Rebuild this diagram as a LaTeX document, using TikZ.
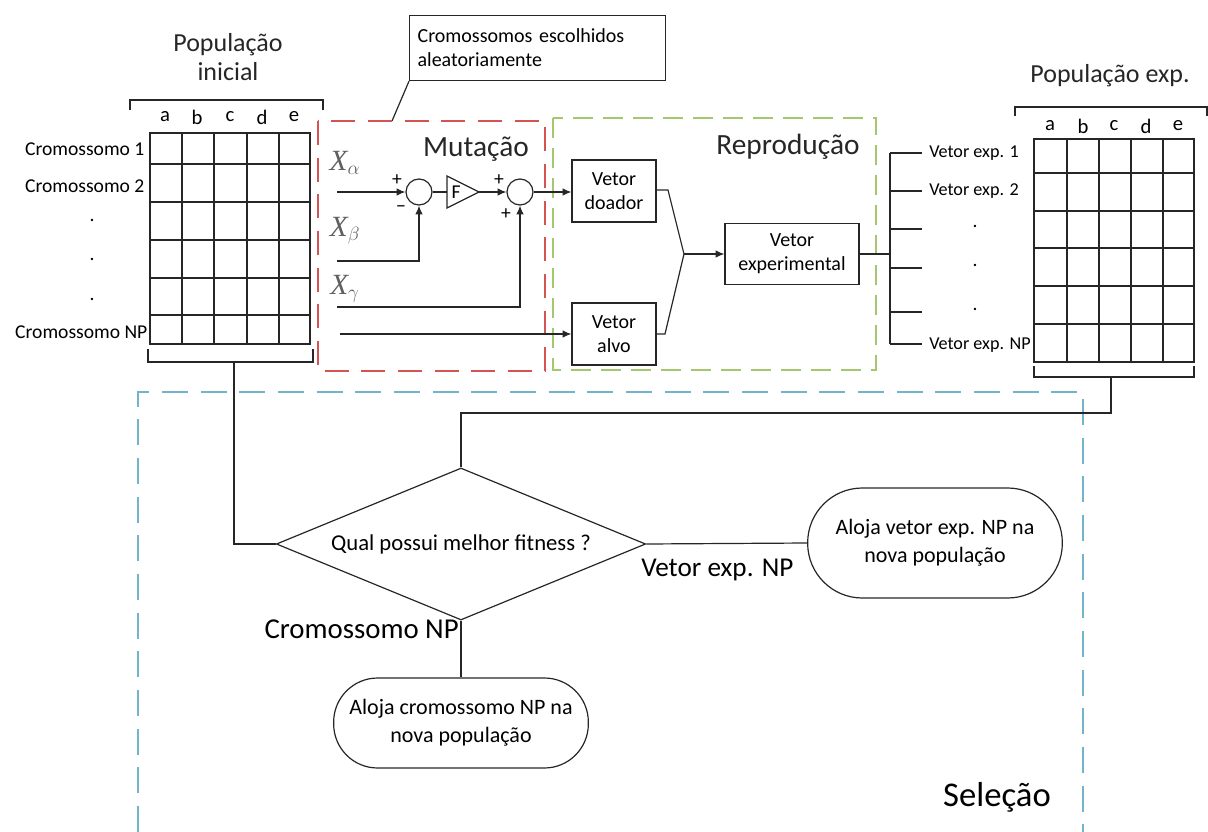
\documentclass[tikz,border=0pt]{standalone}
\usepackage{fontspec}
\setmainfont{Carlito}
\newfontfamily\xserif{Liberation Serif}
\usetikzlibrary{shapes.geometric,arrows.meta}
\definecolor{redd}{RGB}{212,84,84}
\definecolor{grnd}{RGB}{165,200,110}
\definecolor{blud}{RGB}{115,180,205}
\definecolor{xgray}{RGB}{95,95,95}
\newcommand\fsm{\fontsize{14.7}{17}\selectfont}
\newcommand\fve{\fontsize{13.6}{16}\selectfont}
\newcommand\fbx{\fontsize{15}{18}\selectfont}
\newcommand\fmd{\fontsize{15.5}{18}\selectfont}
\newcommand\fdia{\fontsize{17}{20}\selectfont}
\newcommand\fterm{\fontsize{16.5}{21}\selectfont}
\newcommand\fbg{\fontsize{19.5}{22}\selectfont}
\newcommand\fhu{\fontsize{22}{26}\selectfont}
\newcommand\xlab[1]{{\fontsize{22}{24}\selectfont\xserif\itshape X$_{#1}$}}
\begin{document}
\begin{tikzpicture}[x=0.75pt,y=-0.75pt,
  ln/.style={line width=0.9pt,draw=black!85},
  gridln/.style={line width=1.1pt,draw=black!85},
  arr/.style={ln,-{Latex[length=6.5pt,width=5.5pt]}},
  box/.style={ln,rectangle,align=center,inner sep=1pt,font=\fbx},
  lbl/.style={inner sep=1pt,font=\fsm},
  vlbl/.style={inner sep=0pt,font=\fve,anchor=west},
  ttl/.style={inner sep=0pt,font=\fbg,align=center,text=black!85},
  sgn/.style={inner sep=0pt,font=\fsm},
  sumc/.style={ln,circle,minimum size=19.5pt,inner sep=0pt},
  term/.style={ln,rectangle,align=center,inner sep=2pt,font=\fterm},
  reddash/.style={draw=redd,line width=1pt,dash pattern=on 18pt off 9.5pt},
  grndash/.style={draw=grnd,line width=1pt,dash pattern=on 15pt off 7.5pt},
  bludash/.style={draw=blud,line width=1pt,dash pattern=on 19.5pt off 9.5pt}]
\useasboundingbox (0,0) rectangle (1208,832);

% ---- Left population grid
\node[ttl] (tinit) at (228,57) {População\\inicial};
\draw[gridln] (150,133) rectangle (310,344);
\foreach \x in {182,214,247,279} \draw[gridln] (\x,133) -- (\x,344);
\foreach \y in {164,202,240,278,315} \draw[gridln] (150,\y) -- (310,\y);
\draw[ln] (130,110) -- (130,100) -- (323,100) -- (323,110);
\draw[ln] (148,349) -- (148,362) -- (313,362) -- (313,349);
\coordinate (lbr) at (234,362);
\foreach \c/\x in {a/165,b/197,c/230,d/262,e/294}
  \node[lbl,font=\fmd] (l\c) at (\x,117) {\c};
\node[lbl,anchor=east] (cr1) at (146,149) {Cromossomo 1};
\node[lbl,anchor=east] (cr2) at (146,186) {Cromossomo 2};
\node[lbl] (cd1) at (92,220) {.};
\node[lbl] (cd2) at (92,259) {.};
\node[lbl] (cd3) at (92,299) {.};
\node[lbl,anchor=east] (crn) at (149,332) {Cromossomo NP};

% ---- Callout
\node[ln,rectangle,align=left,anchor=north west,minimum width=192pt,minimum height=48.75pt,text width=180pt,inner sep=6pt,font=\fbx] (call) at (409,15) {Cromossomos escolhidos\\aleatoriamente};
\coordinate (callpt) at (392,121);
\draw[ln] (call.south west) -- (callpt);

% ---- Mutation
\draw[reddash] (318,121) rectangle (545,371);
\node[ttl,font=\fhu] (tmut) at (476,149) {Mutação};
\node[inner sep=0pt,text=xgray] (xal) at (345,163) {\xlab{\alpha}};
\node[inner sep=0pt,text=xgray] (xbe) at (345,231) {\xlab{\beta}};
\node[inner sep=0pt,text=xgray] (xga) at (345,289) {\xlab{\gamma}};
\node[sumc] (c1) at (419,192) {};
\node[sumc] (c2) at (520,192) {};
\coordinate (triL) at (447,192);
\coordinate (triR) at (479,192);
\draw[ln] (447,176) -- (479,192) -- (447,208) -- cycle;
\node[inner sep=0pt,font=\fsm] (fF) at (456,192) {F};
\coordinate (xa) at (337,192);
\coordinate (xb) at (337,261);
\coordinate (xg) at (337,307);
\coordinate (xt) at (340,334);
\draw[arr] (xa) -- (c1.west);
\draw[ln] (c1.east) -- (triL);
\draw[arr] (triR) -- (c2.west);
\draw[arr] (xb) -| (c1.south);
\draw[arr] (xg) -| (c2.south);
\node[sgn] (p1) at (397,180) {+};
\node[sgn] (m1) at (401,209) {\textminus};
\node[sgn] (p2) at (499,180) {+};
\node[sgn] (p3) at (506,214) {+};

% ---- Reproduction
\draw[grndash] (553,118) rectangle (876,370);
\node[ttl,font=\fhu] (trep) at (788,147) {Reprodução};
\node[box,minimum width=63pt,minimum height=46.5pt] (doador) at (614,191) {Vetor\\doador};
\node[box,minimum width=63pt,minimum height=46.5pt] (alvo) at (614,334) {Vetor\\alvo};
\node[box,minimum width=100.5pt,minimum height=45.75pt] (exper) at (792,254) {Vetor\\experimental};
\draw[arr] (c2.east) -- (c2.east -| doador.west);
\draw[arr] (xt) -- (alvo.west);
\coordinate (jn) at (684,254);
\draw[ln] (656,190) -- (668,190) -- (jn);
\draw[ln] (656,334) -- (665,334) -- (jn);
\draw[arr] (jn) -- (exper.west);

% ---- Distribution bus
\coordinate (bus) at (890,254);
\coordinate (b1) at (890,153);
\coordinate (b6) at (890,344);
\draw[ln] (exper.east) -- (bus);
\draw[ln] (b1) -- (b6);
\coordinate (e1) at (922,153);
\coordinate (e2) at (922,191);
\coordinate (e3) at (922,229);
\coordinate (e4) at (922,268);
\coordinate (e5) at (922,312);
\coordinate (e6) at (922,344);
\node[vlbl] (ve1) at (929,153) {Vetor exp. 1};
\node[vlbl] (ve2) at (929,191) {Vetor exp. 2};
\node[vlbl] (ven) at (929,345) {Vetor exp. NP};
\node[lbl] (vd1) at (975,226) {.};
\node[lbl] (vd2) at (975,265) {.};
\node[lbl] (vd3) at (975,309) {.};
\draw[ln] (b1) -- (e1);
\draw[ln] (890,191) -- (e2);
\draw[ln] (890,229) -- (e3);
\draw[ln] (890,268) -- (e4);
\draw[ln] (890,312) -- (e5);
\draw[ln] (b6) -- (e6);

% ---- Right population grid
\node[ttl] (texp) at (1110,76) {População exp.};
\draw[gridln] (1034,139) rectangle (1194,362);
\foreach \x in {1067,1099,1131,1163} \draw[gridln] (\x,139) -- (\x,362);
\foreach \y in {173,211,248,286,324} \draw[gridln] (1034,\y) -- (1194,\y);
\draw[ln] (1015,116) -- (1015,107) -- (1207,107) -- (1207,116);
\draw[ln] (1034,366) -- (1034,377) -- (1194,377) -- (1194,366);
\coordinate (rbr) at (1111,377);
\foreach \c/\x in {a/1050,b/1083,c/1114,d/1146,e/1178}
  \node[lbl,font=\fmd] (r\c) at (\x,126) {\c};

% ---- Selection
\draw[bludash] (138,832) -- (138,392) -- (1083,392) -- (1083,832);
\node[ln,diamond,aspect=2.44,minimum width=277pt,minimum height=114pt,inner sep=0pt,font=\fdia] (dia) at (461,544) {Qual possui melhor fitness ?};
\node[term,minimum width=191pt,minimum height=82.5pt,rounded corners=41pt] (t1) at (935,543) {Aloja vetor exp. NP na\\nova população};
\node[term,minimum width=191pt,minimum height=67.5pt,rounded corners=33pt] (t2) at (461,723) {Aloja cromossomo NP na\\nova população};
\draw[ln] (lbr) |- (dia.west);
\draw[ln] (rbr) -- (1111,413) -| (dia.north);
\draw[ln] (dia.east) -- (t1.west);
\draw[ln] (dia.south) -- (t2.north);
\node[inner sep=0pt,font=\fontsize{20.4}{24}\selectfont,anchor=west] (lve) at (641,570) {Vetor exp. NP};
\node[inner sep=0pt,font=\fontsize{21.6}{26}\selectfont,anchor=east] (lcr) at (459,629) {Cromossomo NP};
\node[inner sep=0pt,font=\fontsize{26}{30}\selectfont] (tsel) at (997,797) {Seleção};
\end{tikzpicture}
\end{document}
